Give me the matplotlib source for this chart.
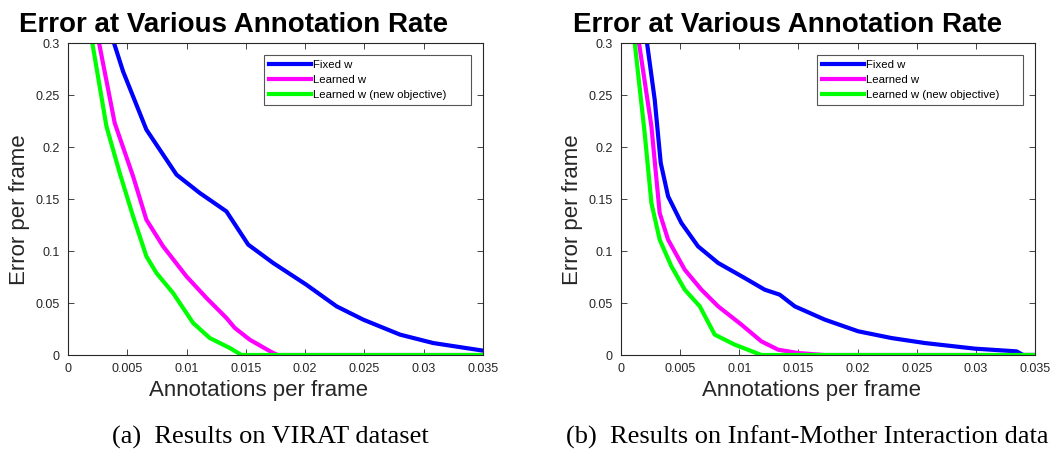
import numpy as np
import matplotlib
matplotlib.use('Agg')
import matplotlib.pyplot as plt

plt.rcParams['font.family'] = ['Liberation Sans', 'DejaVu Sans']

# ---- data ----
# (a) VIRAT
virat_fixed_x = [0.00388, 0.00464, 0.00661, 0.00915, 0.01111, 0.01336, 0.0152, 0.0173, 0.0201, 0.02265, 0.0249, 0.028, 0.0308, 0.035]
virat_fixed_y = [0.3, 0.2728, 0.2167, 0.1734, 0.1558, 0.1381, 0.1061, 0.0885, 0.0676, 0.0468, 0.034, 0.0196, 0.0115, 0.0042]
virat_learned_x = [0.00262, 0.00394, 0.00549, 0.00661, 0.00802, 0.00999, 0.01168, 0.01336, 0.01407, 0.01533, 0.0173, 0.0177, 0.035]
virat_learned_y = [0.3, 0.223, 0.1718, 0.1301, 0.1045, 0.0756, 0.0548, 0.0356, 0.026, 0.0147, 0.0019, 0.0, 0.0]
virat_newobj_x = [0.00205, 0.00324, 0.00436, 0.00549, 0.00661, 0.00746, 0.00886, 0.01055, 0.01196, 0.01365, 0.01463, 0.035]
virat_newobj_y = [0.3, 0.22, 0.175, 0.1333, 0.0949, 0.0788, 0.0596, 0.0308, 0.0163, 0.0067, 0.0, 0.0]

# (b) Infant-Mother Interaction
im_fixed_x = [0.0022, 0.00285, 0.00336, 0.00398, 0.0051, 0.00651, 0.00821, 0.01046, 0.01215, 0.01342, 0.01469, 0.01723, 0.02005, 0.02287, 0.02569, 0.02992, 0.03344, 0.034, 0.035]
im_fixed_y = [0.3, 0.2455, 0.1846, 0.1526, 0.127, 0.1045, 0.0885, 0.074, 0.0628, 0.058, 0.0468, 0.034, 0.0228, 0.0163, 0.0115, 0.0061, 0.0035, 0.0, 0.0]
im_learned_x = [0.00152, 0.00257, 0.00327, 0.00398, 0.00539, 0.0068, 0.00821, 0.01018, 0.01187, 0.01328, 0.01497, 0.0172, 0.035]
im_learned_y = [0.3, 0.2199, 0.1365, 0.1109, 0.082, 0.0628, 0.0468, 0.0292, 0.0131, 0.0051, 0.0019, 0.0, 0.0]
im_newobj_x = [0.00116, 0.002, 0.00257, 0.00327, 0.00426, 0.00539, 0.00666, 0.00792, 0.00962, 0.01187, 0.035]
im_newobj_y = [0.3, 0.2135, 0.1462, 0.1109, 0.0853, 0.0628, 0.0468, 0.0196, 0.0099, 0.0, 0.0]

series_labels = ['Fixed w', 'Learned w', 'Learned w (new objective)']
series_colors = ['#0000ff', '#ff00ff', '#00ff00']
x_ticks = [0, 0.005, 0.01, 0.015, 0.02, 0.025, 0.03, 0.035]
x_ticklabels = ['0', '0.005', '0.01', '0.015', '0.02', '0.025', '0.03', '0.035']
y_ticks = [0, 0.05, 0.1, 0.15, 0.2, 0.25, 0.3]
y_ticklabels = ['0', '0.05', '0.1', '0.15', '0.2', '0.25', '0.3']

title = 'Error at Various Annotation Rate'
captions = ['(a)  Results on VIRAT dataset', '(b)  Results on Infant-Mother Interaction data']

W, H = 1051, 449
fig = plt.figure(figsize=(W / 100, H / 100), dpi=100)
grey = '#262626'


def draw_panel(ax, xs, ys, leg_x0):
    for x, y, c, lab in zip(xs, ys, series_colors, series_labels):
        ax.plot(x, y, color=c, lw=3.0, label=lab, solid_joinstyle='round')
    ax.set_xlim(0, 0.035)
    ax.set_ylim(0, 0.3)
    ax.set_xticks(x_ticks)
    ax.set_xticklabels(x_ticklabels)
    ax.set_yticks(y_ticks)
    ax.set_yticklabels(y_ticklabels)
    ax.tick_params(direction='in', top=True, right=True, labelsize=9,
                   colors=grey, length=4, width=0.6, pad=6)
    for sp in ax.spines.values():
        sp.set_color(grey)
        sp.set_linewidth(0.8)
    ax.set_xlabel('Annotations per frame', fontsize=16, color=grey, labelpad=3)
    ax.xaxis.set_label_coords(0.459, -0.079)
    ax.set_ylabel('Error per frame', fontsize=16, color=grey, labelpad=3)
    ax.yaxis.set_label_coords(-0.091, 0.465)
    # legend box stretched like MATLAB's (extra room on the right)
    leg = ax.legend(loc='upper left', bbox_to_anchor=(leg_x0, 0.5, 0.971 - leg_x0, 0.4615),
                    mode='expand', fontsize=8.2, handlelength=3.7,
                    borderaxespad=0.0, labelspacing=0.44, handletextpad=0.15,
                    fancybox=False, framealpha=1, borderpad=0.42)
    leg.get_frame().set_edgecolor('#555555')
    leg.get_frame().set_linewidth(0.8)


ax1 = fig.add_axes([68 / W, 1 - 355 / H, (483 - 68) / W, (355 - 43) / H])
draw_panel(ax1, [virat_fixed_x, virat_learned_x, virat_newobj_x],
           [virat_fixed_y, virat_learned_y, virat_newobj_y], 0.4723)
ax2 = fig.add_axes([621 / W, 1 - 355 / H, (1035 - 621) / W, (355 - 43) / H])
draw_panel(ax2, [im_fixed_x, im_learned_x, im_newobj_x],
           [im_fixed_y, im_learned_y, im_newobj_y], 0.4734)

# titles and captions
for cx in [234, 788]:
    fig.text(cx / W, 1 - 32 / H, title, ha='center', va='baseline',
             fontsize=20, fontweight='bold', color='black')
for cx, cap in zip([270, 807], captions):
    fig.text(cx / W, 1 - 444 / H, cap, ha='center', va='baseline',
             fontsize=19, family=['Liberation Serif', 'DejaVu Serif'], color='black')

plt.savefig('out.png', dpi=100)
plt.close()
